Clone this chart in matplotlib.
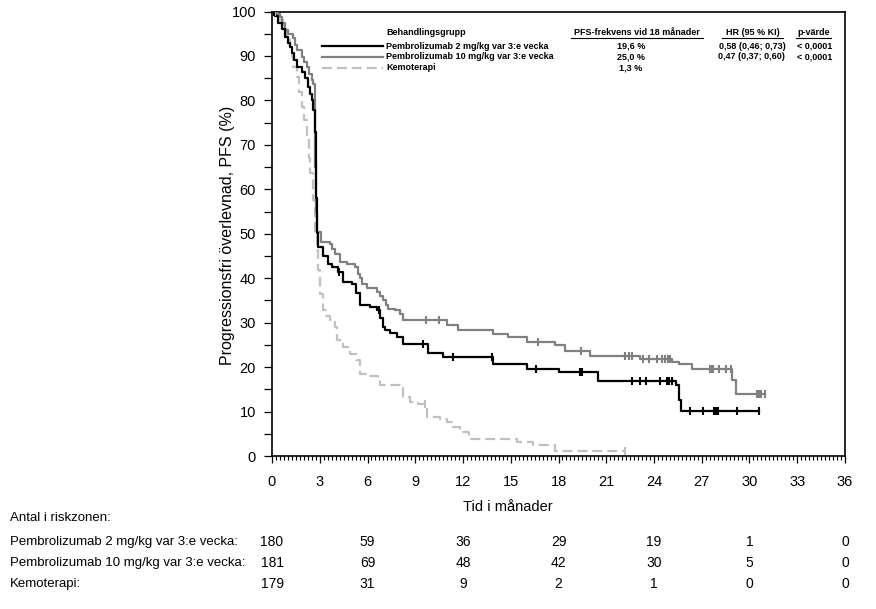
import numpy as np
import matplotlib
matplotlib.use("Agg")
import matplotlib.pyplot as plt
from matplotlib.ticker import MultipleLocator
from matplotlib.transforms import blended_transform_factory

plt.rcParams['font.family'] = ['Liberation Sans', 'DejaVu Sans']

# Kaplan-Meier steps (time in months, PFS in %)
t_2mg = [0, 0.2, 0.4, 0.6, 0.82, 1.0, 1.13, 1.24, 1.4, 1.55, 1.87, 2.07, 2.28, 2.4, 2.5, 2.6,
         2.7, 2.75, 2.78, 2.81, 2.91, 3.2, 3.5, 3.75, 4.15, 4.47, 5.0, 5.3, 5.53, 6.15, 6.57,
         6.78, 6.97, 7.1, 7.4, 7.83, 8.23, 9.82, 10.76, 13.9, 16.0, 18.0, 20.5, 25.4, 25.6,
         25.7, 30.6]
s_2mg = [100, 99, 97.5, 96, 94.3, 93, 92, 90.6, 89, 87.6, 86.4, 85, 83, 81.5, 80, 77.8,
         73, 65, 58, 50.1, 47, 45, 43.3, 42.5, 41.4, 39.1, 38.8, 36.6, 33.9, 33.5, 32.8,
         31, 29, 28.3, 27.6, 26.8, 25.3, 23.2, 22.3, 20.8, 19.6, 18.9, 16.8, 15.9, 12.5,
         10.2, 10.2]
c_2mg = [0.1, 2.75, 4.2, 6.7, 9.5, 11.4, 13.85, 16.6, 19.35, 19.5, 22.6, 23.1, 23.5, 24.4,
         24.8, 24.95, 25.1, 26.25, 27.05, 27.8, 27.9, 28.0, 29.2, 30.6]

t_10mg = [0, 0.3, 0.5, 0.65, 0.82, 1.0, 1.34, 1.45, 1.55, 1.87, 2.0, 2.18, 2.35, 2.5, 2.6,
          2.7, 2.73, 2.76, 2.8, 3.1, 3.64, 3.8, 3.96, 4.27, 4.7, 5.2, 5.4, 5.5, 5.63, 5.95,
          6.57, 6.8, 7.0, 7.15, 7.3, 7.73, 8.04, 8.25, 10.97, 11.7, 13.9, 14.85, 16.0, 17.8,
          18.4, 20.0, 23.1, 25.1, 25.6, 26.4, 28.9, 29.15, 31.0]
s_10mg = [100, 99.5, 98.8, 97.5, 95.8, 95, 94, 92.5, 91.3, 89.8, 88.7, 87.6, 86, 84.6, 83.8,
          75, 65, 55, 50.5, 48.2, 47.8, 46.5, 45.5, 43.6, 43.3, 42.5, 41, 40, 38.8, 37.7,
          36.9, 36, 35, 34, 33.1, 32.8, 32, 30.6, 29.4, 28.3, 27.5, 26.8, 25.6, 25.0,
          23.7, 22.6, 21.9, 21.1, 20.6, 19.6, 17, 14, 14]
c_10mg = [0.15, 9.7, 10.5, 16.7, 19.4, 22.2, 22.4, 22.6, 23.3, 23.7, 24.2, 24.5, 24.7, 24.85,
          25.0, 27.5, 27.6, 27.7, 28.1, 28.5, 28.85, 30.5, 30.6, 30.75, 31.0]

t_chemo = [0, 0.3, 0.5, 0.7, 0.9, 1.13, 1.25, 1.34, 1.55, 1.7, 1.87, 2.0, 2.18, 2.3, 2.4,
           2.56, 2.7, 2.8, 2.9, 3.0, 3.2, 3.4, 3.64, 3.96, 4.06, 4.48, 4.9, 5.3, 5.5, 5.95,
           6.68, 6.78, 8.25, 8.67, 9.19, 9.72, 10.55, 11.0, 11.4, 11.8, 12.4, 15.4, 16.4,
           17.8, 22.2]
s_chemo = [100, 99, 98, 96.6, 94.5, 92, 90, 87.6, 85.3, 82, 78.6, 75.5, 71, 67, 63.6,
           57.5, 50, 46.3, 41.8, 36.5, 32.8, 31.5, 30.5, 29, 26, 24.5, 23, 21.5, 18.5, 18.1,
           17.4, 15.9, 13.2, 12.1, 11.8, 8.7, 8.4, 7.6, 6.5, 5.4, 3.9, 3.1, 2.5,
           1.2, 1.2]
c_chemo = [0.2, 9.6, 22.2]

risk_times = [0, 6, 12, 18, 24, 30, 36]
risk_2mg = [180, 59, 36, 29, 19, 1, 0]
risk_10mg = [181, 69, 48, 42, 30, 5, 0]
risk_chemo = [179, 31, 9, 2, 1, 0, 0]

group_names = ["Pembrolizumab 2 mg/kg var 3:e vecka",
               "Pembrolizumab 10 mg/kg var 3:e vecka",
               "Kemoterapi"]
pfs18 = ["19,6 %", "25,0 %", "1,3 %"]
hr_ci = ["0,58 (0,46; 0,73)", "0,47 (0,37; 0,60)", ""]
p_vals = ["< 0,0001", "< 0,0001", ""]

col_2mg = "black"
col_10mg = "#808080"
col_chemo = "#c0c0c0"


def surv_at(times, surv, x):
    idx = np.searchsorted(times, x, side='right') - 1
    return np.array(surv)[np.clip(idx, 0, len(surv) - 1)]


fig = plt.figure(figsize=(8.76, 6.09), dpi=100)
ax = fig.add_axes([272 / 876, 1 - 456 / 609, 573 / 876, 444.5 / 609])

series = [(t_2mg, s_2mg, c_2mg, col_2mg, '-'),
          (t_10mg, s_10mg, c_10mg, col_10mg, '-'),
          (t_chemo, s_chemo, c_chemo, col_chemo, '--')]
for t, s, c, col, ls in reversed(series):
    ln, = ax.step(t, s, where='post', color=col, lw=1.6, ls=ls, zorder=3)
    if ls == '--':
        ln.set_dashes((4.5, 2.2))
    ax.plot(c, surv_at(t, s, c), ls='none', marker='|', ms=6, mew=1.5, color=col, zorder=4)

ax.set_xlim(0, 36)
ax.set_ylim(0, 100)
ax.xaxis.set_major_locator(MultipleLocator(3))
ax.xaxis.set_minor_locator(MultipleLocator(0.25))
ax.yaxis.set_major_locator(MultipleLocator(10))
ax.yaxis.set_minor_locator(MultipleLocator(5))
ax.tick_params(axis='both', which='major', labelsize=10.5, width=0.9, direction='out')
ax.tick_params(axis='x', which='major', length=5, pad=9)
ax.tick_params(axis='x', which='minor', length=3, width=0.8)
ax.tick_params(axis='y', which='major', length=6, pad=5.5)
ax.tick_params(axis='y', which='minor', length=6, width=0.9)
for sp in ax.spines.values():
    sp.set_linewidth(1.2)

ax.set_xlabel("Tid i månader", fontsize=10.5)
ax.xaxis.set_label_coords((508 - 272) / 573, (456 - 500) / 444.5)
ax.set_ylabel("Progressionsfri överlevnad, PFS (%)", fontsize=11.5)
ax.yaxis.set_label_coords((235 - 272) / 573, (456 - 235) / 444.5)

# legend table inside the plot
fs = 6.5
ax.text(7.16, 95.2, "Behandlingsgrupp", fontsize=fs, fontweight='bold', va='center')
ax.text(22.9, 95.2, "PFS-frekvens vid 18 månader", fontsize=fs, fontweight='bold',
        va='center', ha='center')
ax.text(30.2, 95.2, "HR (95 % KI)", fontsize=fs, fontweight='bold', va='center', ha='center')
ax.text(34.05, 95.2, "p-värde", fontsize=fs, fontweight='bold', va='center', ha='center')
for x0, x1 in [(18.8, 27.05), (28.3, 32.1), (32.95, 35.1)]:
    ax.plot([x0, x1], [94.0, 94.0], color='black', lw=0.8, clip_on=False)

row_y = [92.2, 89.8, 87.3]
for i, (col, ls) in enumerate([(col_2mg, '-'), (col_10mg, '-'), (col_chemo, '--')]):
    ln, = ax.plot([3.14, 7.0], [row_y[i], row_y[i]], color=col, lw=1.6, ls=ls)
    if ls == '--':
        ln.set_dashes((4.5, 2.2))
    ax.text(7.16, row_y[i], group_names[i], fontsize=fs, fontweight='bold', va='center')
    ax.text(22.55, row_y[i], pfs18[i], fontsize=fs, fontweight='bold', va='center', ha='center')
    ax.text(30.15, row_y[i], hr_ci[i], fontsize=fs, fontweight='bold', va='center', ha='center')
    ax.text(35.2, row_y[i], p_vals[i], fontsize=fs, fontweight='bold', va='center', ha='right')

# number at risk table
tf = blended_transform_factory(ax.transData, fig.transFigure)
fig.text(10 / 876, 1 - 518 / 609, "Antal i riskzonen:", fontsize=9.5, va='center')
row_labels = ["Pembrolizumab 2 mg/kg var 3:e vecka:",
              "Pembrolizumab 10 mg/kg var 3:e vecka:",
              "Kemoterapi:"]
row_fy = [1 - 542 / 609, 1 - 563 / 609, 1 - 584 / 609]
for lab, vals, fy in zip(row_labels, [risk_2mg, risk_10mg, risk_chemo], row_fy):
    fig.text(10 / 876, fy, lab, fontsize=9.5, va='center')
    for tt, v in zip(risk_times, vals):
        ax.text(tt, fy, str(v), transform=tf, fontsize=10,
                va='center', ha='center')

fig.savefig("out.png", dpi=100)
